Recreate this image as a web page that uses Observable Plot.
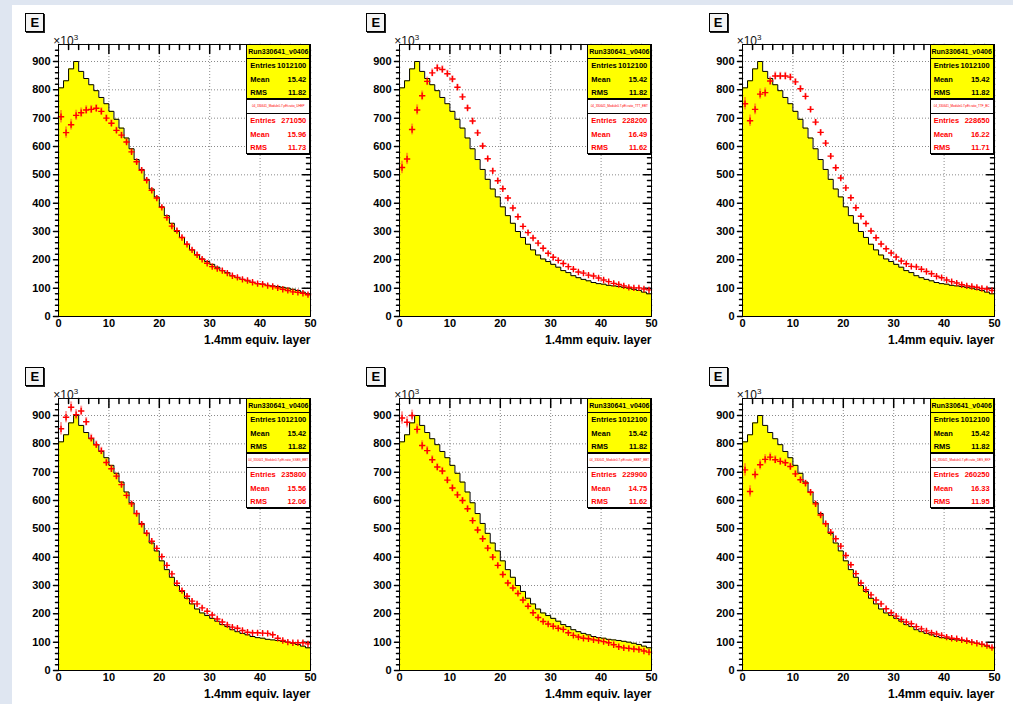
<!DOCTYPE html>
<html>
<head>
<meta charset="utf-8">
<script src="https://cdn.jsdelivr.net/npm/d3@7"></script>
<script src="https://cdn.jsdelivr.net/npm/@observablehq/plot@0.6"></script>
<style>
  body { margin: 0; background: #dfe6f1; }
  #page { position: relative; width: 1013px; height: 704px; overflow: hidden;
          font-family: "Liberation Sans", Arial, Helvetica, sans-serif; }
  #canvas { position: absolute; left: 12px; top: 5px; right: 0; bottom: 0; background: #fff; }
  .panel { position: absolute; }
  .ebox { position: absolute; box-sizing: border-box; width: 19px; height: 19px;
          border: 1px solid #000; background: #f4f4f4; box-shadow: 1px 1px 0 #222;
          font-weight: bold; font-size: 13px; line-height: 17px; text-align: center; color: #000; }
  .mult { position: absolute; font-size: 12px; color: #111; white-space: nowrap; line-height: 12px; }
  .mult sup { font-size: 8px; vertical-align: 5px; }
  .stats { position: absolute; box-sizing: border-box; width: 64px; height: 55px;
           border: 1px solid #000; box-shadow: 1px 1px 0 #000; }
  .stats .head { position: absolute; left: 0; right: 0; top: 0; height: 14px; box-sizing: border-box;
                 border-bottom: 1px solid #000; text-align: center; white-space: nowrap; overflow: hidden;
                 font-weight: bold; font-size: 7px; line-height: 13px; }
  .stats .head.small { font-weight: normal; letter-spacing: -0.05px; }
  .stats .row { position: absolute; left: 3px; right: 3px; height: 12px; line-height: 12px;
                font-weight: bold; font-size: 7.5px; white-space: nowrap; }
  .stats .row .v { position: absolute; right: 0; }
</style>
</head>
<body>
<div id="page"><div id="canvas"></div></div>
<script>
// Bin lower edges: 50 layers of width 1
const layers = d3.range(0, 50);

// Reference run histogram (×10³ entries per layer)
const refCounts = [807, 832, 874, 900, 865, 840, 818, 797, 773, 751,
                   724, 696, 665, 630, 592, 554, 519, 484, 450, 422,
                   387, 356, 329, 300, 279, 255, 235, 217, 203, 194,
                   184, 174, 162, 155, 144, 137, 131, 126, 120, 116,
                   114, 110, 108, 106, 103, 100, 96, 92, 86, 80];

// Module selections, normalised to the reference (×10³)
const sel1 = [705, 649, 677, 710, 719, 729, 731, 735, 724, 700,
              682, 657, 640, 616, 581, 546, 516, 481, 445, 418,
              385, 349, 319, 303, 279, 255, 235, 218, 202, 188,
              176, 169, 162, 153, 144, 138, 131, 127, 121, 116,
              114, 109, 106, 101, 96, 92, 87, 85, 82, 77];
const sel2 = [526, 556, 660, 729, 779, 830, 860, 877, 872, 857,
              838, 809, 775, 736, 690, 648, 602, 557, 514, 479,
              451, 418, 383, 352, 318, 296, 277, 259, 241, 223,
              209, 198, 187, 176, 167, 157, 153, 146, 143, 136,
              129, 123, 117, 113, 108, 103, 101, 101, 97, 94];
const sel3 = [751, 691, 731, 785, 790, 831, 849, 849, 849, 845,
              828, 804, 777, 731, 686, 650, 612, 566, 525, 489,
              454, 419, 384, 354, 328, 302, 278, 256, 239, 224,
              210, 196, 186, 177, 175, 167, 159, 151, 142, 137,
              129, 123, 118, 112, 108, 106, 103, 99, 97, 92];
const sel4 = [853, 894, 929, 903, 916, 878, 820, 797, 775, 734,
              712, 686, 656, 618, 588, 554, 516, 485, 456, 431,
              402, 371, 341, 308, 282, 262, 245, 235, 221, 209,
              196, 182, 171, 161, 153, 149, 141, 135, 133, 133,
              132, 131, 126, 114, 106, 100, 98, 98, 98, 94];
const sel5 = [891, 876, 900, 851, 794, 776, 744, 718, 704, 672,
              644, 620, 600, 571, 529, 496, 465, 432, 400, 371,
              339, 309, 291, 272, 249, 227, 204, 187, 173, 164,
              156, 149, 145, 133, 124, 118, 114, 112, 108, 106,
              102, 98, 91, 84, 80, 78, 76, 74, 69, 65];
const sel6 = [708, 632, 692, 726, 745, 753, 744, 738, 733, 720,
              694, 673, 661, 629, 588, 549, 518, 488, 465, 439,
              406, 373, 342, 309, 285, 267, 249, 235, 218, 204,
              192, 180, 171, 165, 155, 147, 140, 133, 129, 124,
              118, 114, 112, 108, 105, 100, 96, 93, 88, 81];

// Statistical errors on the selections (×10³)
const selErr = [22, 20, 19, 18, 17, 15, 14, 13, 13, 12,
                12, 11, 11, 10, 10, 10, 9, 9, 9, 8,
                8, 8, 8, 7, 7, 7, 7, 7, 6, 6,
                6, 6, 6, 6, 5, 5, 5, 5, 5, 5,
                5, 5, 5, 5, 5, 5, 5, 5, 5, 5];

// Stats box contents
const refTitle = "Run330641_v0406";
const refStats = {entries: "1012100", mean: "15.42", rms: "11.82"};
const selTitles = ["04_330641_Module0.7.pEt.ratio_UHEP", "04_330641_Module0.7.pEt.ratio_TTT_EBT",
                   "04_330641_Module0.7.pEt.ratio_TTF_BC", "04_330641_Module0.7.pEt.ratio_SSBS_BBT",
                   "04_330641_Module0.7.pEt.ratio_BBBT_BBT", "04_330641_Module0.7.pEt.ratio_DBS_BKF"];
const selEntries = ["271050", "228200", "228650", "235800", "229900", "260250"];
const selMeans = ["15.96", "16.49", "16.22", "15.56", "14.75", "16.33"];
const selRms = ["11.73", "11.62", "11.71", "12.06", "11.62", "11.95"];
const selSeries = [sel1, sel2, sel3, sel4, sel5, sel6];

// Axis ticks and labels
const xLabels = [0, 10, 20, 30, 40, 50];
const yLabels = [0, 100, 200, 300, 400, 500, 600, 700, 800, 900];
const xGrid = [10, 20, 30, 40];
const yGrid = [100, 200, 300, 400, 500, 600, 700, 800, 900];
const xTopMajor = [10, 20, 30, 40];
const xTopMinor = d3.range(2, 50, 2).filter(d => d % 10 !== 0);
const yMinor = d3.range(20, 960, 20).filter(d => d % 100 !== 0);
const xTitle = "1.4mm equiv. layer";

// Frame origins of the six pads (left, top of plotting area)
const pads = [[58.3, 44.3], [399.3, 44.3], [741.7, 44.3],
              [58.3, 398.3], [399.3, 398.3], [741.7, 398.3]];

const ML = 58, MT = 44, W = 340, H = 352, MR = 30, MB = 36;
const FW = W - ML - MR;
const font = "Liberation Sans, Arial, Helvetica, sans-serif";

// A straight tick drawn from the anchor along the vector direction
const tickShape = {draw(ctx, l) { ctx.moveTo(0, 0); ctx.lineTo(0, -l); }};

const page = document.getElementById("page");

function drawPad(k) {
  const sel = selSeries[k];
  const steps = layers.map((x, i) => ({x, y: refCounts[i]}));
  steps.push({x: 50, y: refCounts[refCounts.length - 1]});
  const pts = layers.map((x, i) => ({x: x + 0.5, y: sel[i], e: selErr[i]}));

  const chart = Plot.plot({
    width: W, height: H,
    marginLeft: ML, marginRight: MR, marginTop: MT, marginBottom: MB,
    x: {domain: [0, 50]},
    y: {domain: [0, 960]},
    style: {fontFamily: font, background: "transparent", overflow: "visible", color: "#000"},
    marks: [
      Plot.ruleX(xGrid, {x: d => d, stroke: "#8a8a8a", strokeDasharray: "1,2"}),
      Plot.ruleY(yGrid, {y: d => d, stroke: "#8a8a8a", strokeDasharray: "1,2"}),
      // mirrored ticks on the top and right edges, pointing inward
      Plot.vectorX(xTopMajor, {x: d => d, frameAnchor: "top", rotate: 180, anchor: "start", length: 9, shape: tickShape, stroke: "#000"}),
      Plot.vectorX(xTopMinor, {x: d => d, frameAnchor: "top", rotate: 180, anchor: "start", length: 5, shape: tickShape, stroke: "#000"}),
      Plot.vectorY(yGrid, {y: d => d, frameAnchor: "right", rotate: -90, anchor: "start", length: 8, shape: tickShape, stroke: "#000"}),
      Plot.vectorY(yMinor, {y: d => d, frameAnchor: "right", rotate: -90, anchor: "start", length: 4, shape: tickShape, stroke: "#000"}),
      // reference histogram
      Plot.areaY(steps, {x: "x", y: "y", curve: "step-after", fill: "#ffff00"}),
      Plot.lineY(steps, {x: "x", y: "y", curve: "step-after", stroke: "#000", strokeWidth: 1}),
      // selection with error bars
      Plot.ruleX(pts, {x: "x", y1: d => d.y - d.e, y2: d => d.y + d.e, stroke: "#ff2a2a", strokeOpacity: 0.45, strokeWidth: 2}),
      Plot.dot(pts, {x: "x", y: "y", symbol: "plus", r: 2.2, stroke: "#ff0000", strokeWidth: 1.4}),
      Plot.frame({stroke: "#000"}),
      // left axis ticks, outward
      Plot.vectorY(yLabels, {y: d => d, frameAnchor: "left", rotate: -90, anchor: "start", length: 5, shape: tickShape, stroke: "#000"}),
      Plot.vectorY(yMinor, {y: d => d, frameAnchor: "left", rotate: -90, anchor: "start", length: 3, shape: tickShape, stroke: "#000"}),
      Plot.axisY(yLabels, {tickSize: 0, tickPadding: 8, fontSize: 11, fontWeight: "bold", label: null, tickFormat: d => String(d)}),
      Plot.axisX(xLabels, {tickSize: 0, tickPadding: 3, fontSize: 11, fontWeight: "bold", label: null, tickFormat: d => String(d)}),
      Plot.text([xTitle], {text: d => d, frameAnchor: "bottom-right", textAnchor: "end", lineAnchor: "middle", dy: 24, fontSize: 12, fontWeight: "bold"})
    ]
  });

  const [fl, ft] = pads[k];
  const sx = fl - ML, sy = ft - MT;
  chart.classList.add("panel");
  chart.style.left = sx + "px";
  chart.style.top = sy + "px";
  page.appendChild(chart);

  const fr = fl + FW;

  // "E" draw-option box
  const e = document.createElement("div");
  e.className = "ebox";
  e.style.left = (fl - 33) + "px";
  e.style.top = (ft - 31) + "px";
  e.textContent = "E";
  page.appendChild(e);

  // axis multiplier
  const m = document.createElement("div");
  m.className = "mult";
  m.style.left = (fl - 5) + "px";
  m.style.top = (ft - 12) + "px";
  m.innerHTML = "×10<sup>3</sup>";
  page.appendChild(m);

  // stats boxes
  function statsBox(top, title, st, color, bg, titleSize, small) {
    const b = document.createElement("div");
    b.className = "stats";
    b.style.left = (fr - 64) + "px";
    b.style.top = top + "px";
    b.style.background = bg;
    b.style.color = color;
    const h = document.createElement("div");
    h.className = small ? "head small" : "head";
    h.style.fontSize = titleSize + "px";
    h.textContent = title;
    b.appendChild(h);
    [["Entries", st.entries], ["Mean", st.mean], ["RMS", st.rms]].forEach(([lab, val], i) => {
      const r = document.createElement("div");
      r.className = "row";
      r.style.top = (14.5 + i * 13.8) + "px";
      r.innerHTML = `<span>${lab}</span><span class="v">${val}</span>`;
      b.appendChild(r);
    });
    page.appendChild(b);
  }
  statsBox(ft, refTitle, refStats, "#000", "#ffff00", 7, false);
  statsBox(ft + 55, selTitles[k], {entries: selEntries[k], mean: selMeans[k], rms: selRms[k]}, "#ff0000", "#ffffff", 3.1, true);
}

for (let k = 0; k < 6; k++) drawPad(k);
</script>
</body>
</html>
